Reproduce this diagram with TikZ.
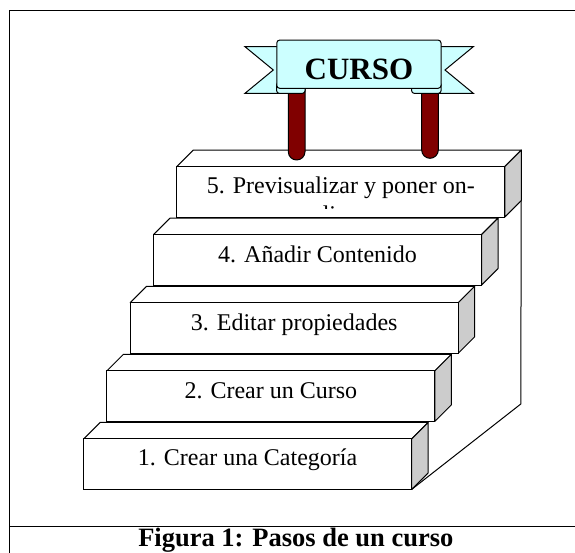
\documentclass[tikz,border=0pt]{standalone}
\usepackage{fontspec}
\setmainfont{Liberation Serif}
\usetikzlibrary{positioning,calc}

\definecolor{bannercyan}{HTML}{CCFFFF}
\definecolor{postred}{HTML}{800000}
\definecolor{sidegray}{HTML}{CCCCCC}

\begin{document}
\begin{tikzpicture}[x=1pt, y=-1pt, line width=1pt,
    stepbox/.style={draw, fill=white, minimum width=328pt, minimum height=50.5pt, inner sep=0pt, outer sep=0pt},
    steptext/.style={anchor=base, inner sep=0pt, font=\fontsize{24}{27.6}\selectfont},
    topface/.style={draw, fill=white, line join=round},
    sideface/.style={draw, fill=sidegray, line join=round},
    post/.style={draw, fill=postred, rounded corners=8.3pt},
    curl/.style={draw, fill=bannercyan, rounded corners=2.5pt}]

  \useasboundingbox (0,0) rectangle (575,553);

  % Frame round the figure and the caption rule
  \draw[line width=0.8pt] (575,10) -- (9.5,10) -- (9.5,553);
  \draw[line width=0.8pt] (9.5,526) -- (575,526);

  % Define the steps, top one first
  \node (step5) [stepbox] at (340.8,191.8) {};
  \node (step4) [stepbox] at (317.5,259.9) {};
  \node (step3) [stepbox] at (294.2,328.0) {};
  \node (step2) [stepbox] at (270.9,396.1) {};
  \node (step1) [stepbox] at (247.6,464.2) {};

  % Back edge of the stair
  \coordinate (backtop) at ($(step5.north east)+(16.5,-16.5)$);
  \coordinate (backfoot) at (520.8,404);
  \draw (backtop) -- (backfoot) -- (step1.south east);

  % Step 5
  \draw[topface] (step5.north west) -- ++(16.5,-16.5) -- ($(step5.north east)+(16.5,-16.5)$) -- (step5.north east) -- cycle;
  \draw[sideface] (step5.north east) -- ++(16.5,-16.5) -- ($(step5.south east)+(16.5,-16.5)$) -- (step5.south east) -- cycle;
  \node (front5) [stepbox] at (step5) {};
  \node (label5) [steptext] at ($(step5.north)+(0,27.3)$) {5. Previsualizar y poner on-};
  \begin{scope}
    \clip ($(step5.south west)+(1,-8.5)$) rectangle ($(step5.north east)+(-1,1)$);
    \node (label5b) [steptext] at ($(step5.north)+(0,56.3)$) {line};
  \end{scope}

  % Step 4
  \draw[topface] (step4.north west) -- ++(16.5,-16.5) -- ($(step4.north east)+(16.5,-16.5)$) -- (step4.north east) -- cycle;
  \draw[sideface] (step4.north east) -- ++(16.5,-16.5) -- ($(step4.south east)+(16.5,-16.5)$) -- (step4.south east) -- cycle;
  \node (front4) [stepbox] at (step4) {};
  \node (label4) [steptext] at ($(step4.north)+(0,27.5)$) {4. Añadir Contenido};

  % Step 3
  \draw[topface] (step3.north west) -- ++(16.5,-16.5) -- ($(step3.north east)+(16.5,-16.5)$) -- (step3.north east) -- cycle;
  \draw[sideface] (step3.north east) -- ++(16.5,-16.5) -- ($(step3.south east)+(16.5,-16.5)$) -- (step3.south east) -- cycle;
  \node (front3) [stepbox] at (step3) {};
  \node (label3) [steptext] at ($(step3.north)+(0,27.5)$) {3. Editar propiedades};

  % Step 2
  \draw[topface] (step2.north west) -- ++(16.5,-16.5) -- ($(step2.north east)+(16.5,-16.5)$) -- (step2.north east) -- cycle;
  \draw[sideface] (step2.north east) -- ++(16.5,-16.5) -- ($(step2.south east)+(16.5,-16.5)$) -- (step2.south east) -- cycle;
  \node (front2) [stepbox] at (step2) {};
  \node (label2) [steptext] at ($(step2.north)+(0,28)$) {2. Crear un Curso};

  % Step 1
  \draw[topface] (step1.north west) -- ++(16.5,-16.5) -- ($(step1.north east)+(16.5,-16.5)$) -- (step1.north east) -- cycle;
  \draw[sideface] (step1.north east) -- ++(16.5,-16.5) -- ($(step1.south east)+(16.5,-16.5)$) -- (step1.south east) -- cycle;
  \node (front1) [stepbox] at (step1) {};
  \node (label1) [steptext] at ($(step1.north)+(0,27)$) {1. Crear una Categoría};

  % Banner: tails, posts, curls, then the front (over the top step)
  \draw[fill=bannercyan, line join=miter] (283,46.7) -- (245,46.7) -- (273.3,70) -- (245,93.3) -- (283,93.3) -- cycle; % left tail
  \draw[fill=bannercyan, line join=miter] (435,46.7) -- (473.3,46.7) -- (445,70) -- (473.3,93.3) -- (435,93.3) -- cycle; % right tail
  \draw[post] (288.3,78) rectangle (305,160);
  \draw[post] (421.7,78) rectangle (438.3,158.3);
  \draw[curl] (276.7,82) rectangle (305,93.3);
  \draw[curl] (411.7,82) rectangle (441,93.3);
  \node (banner) [draw, fill=bannercyan, rounded corners=3pt, minimum width=164.3pt, minimum height=48.3pt, outer sep=0pt] at (358.9,64.2) {};
  \node (bannertext) [anchor=base, inner sep=0pt, font=\bfseries\fontsize{31}{31}\selectfont] at ($(banner.south)+(0,-8.8)$) {CURSO};

  % Caption
  \node (caption) [anchor=base, inner sep=0pt, font=\bfseries\fontsize{26.5}{30}\selectfont] at (295.8,546.8) {Figura 1: Pasos de un curso};

\end{tikzpicture}
\end{document}
